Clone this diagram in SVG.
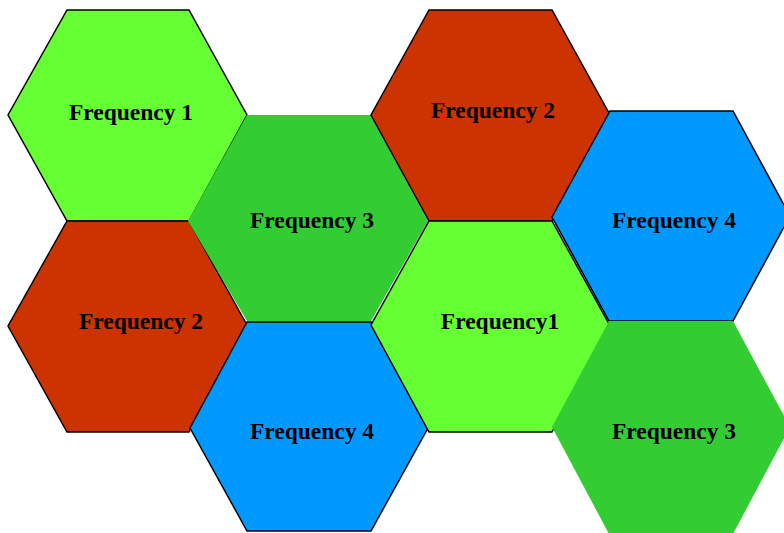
<svg xmlns="http://www.w3.org/2000/svg" width="784" height="533" viewBox="0 0 784 533">
<style>
.hex{stroke:#000;stroke-width:1.5;stroke-linejoin:miter}
.ns{stroke:none}
.lg{fill:#66ff33}.g{fill:#33cc33}.r{fill:#cc3300}.b{fill:#0099ff}
text{font-family:"Liberation Serif","Times New Roman",serif;font-weight:bold;font-size:23.5px;fill:#000;text-anchor:middle}
</style>
<rect width="784" height="533" fill="#fff"/>
<g id="connectors"/>
<g id="hex-f1-top-left">
<polygon class="hex lg" points="67,10 189,10 247,115 189,221 67,221 8,115"/>
<text x="131" y="120">Frequency 1</text>
</g>
<g id="hex-f2-left">
<polygon class="hex r" points="67,221 189,221 247,325 189,432 67,432 8,326"/>
<text x="141" y="329">Frequency 2</text>
</g>
<g id="hex-f3-top">
<polygon class="ns g" points="247,115 371,115 428,221 371,321 247,321 188,221"/>
<text x="312" y="228">Frequency 3</text>
</g>
<g id="hex-f4-bottom">
<polygon class="hex b" points="247,322 371,322 428,428 371,531 247,531 190,428"/>
<text x="312" y="439">Frequency 4</text>
</g>
<g id="hex-f2-top">
<polygon class="hex r" points="429,10 552,10 609,113 552,221 429,221 371,115"/>
<text x="493" y="118">Frequency 2</text>
</g>
<g id="hex-f1-center">
<polygon class="hex lg" points="429,221 552,221 609,324 552,432 429,432 371,325"/>
<text x="500" y="329">Frequency1</text>
</g>
<g id="hex-f4-right">
<polygon class="hex b" points="610,111 733,111 790,216 733,321 609,321 552,217"/>
<text x="674" y="228">Frequency 4</text>
</g>
<g id="hex-f3-bottom-right">
<polygon class="ns g" points="609,321 733,321 790,427 733,534 609,534 552,427"/>
<text x="674" y="439">Frequency 3</text>
</g>
</svg>
